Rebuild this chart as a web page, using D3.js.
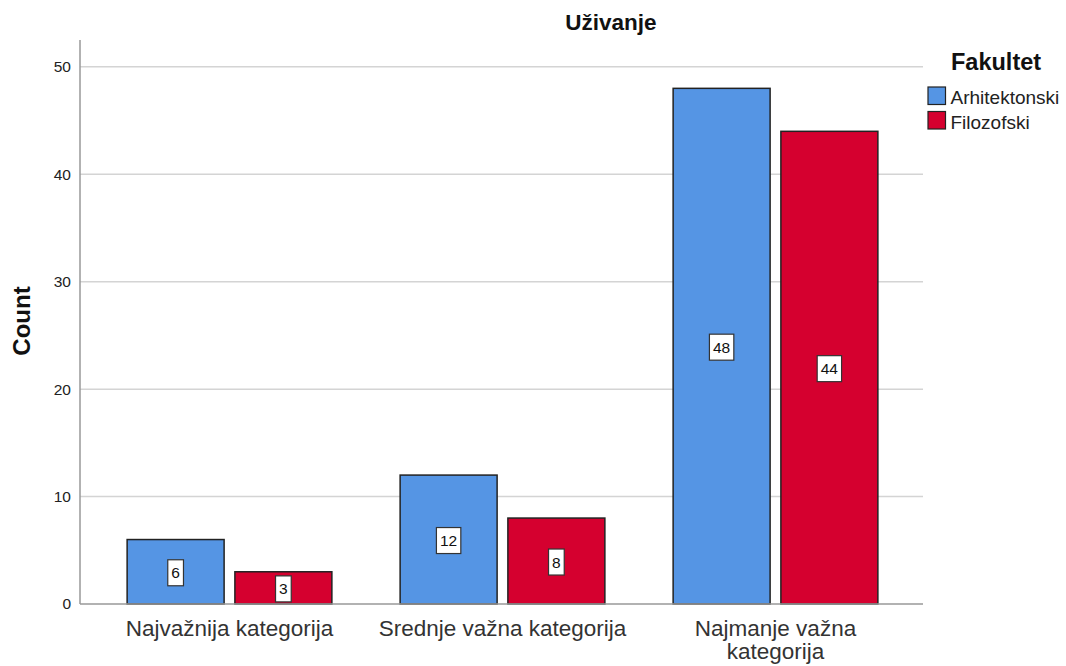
<!DOCTYPE html>
<html><head><meta charset="utf-8">
<script src="https://cdn.jsdelivr.net/npm/d3@7"></script>
<style>body{margin:0;background:#fff;} svg{display:block;font-family:"Liberation Sans",Arial,sans-serif;}</style>
</head><body>
<svg id="c" width="1066" height="666"></svg>
<script>
const categories = ["Najvažnija kategorija", "Srednje važna kategorija", "Najmanje važna kategorija"];
const categoryLines = [["Najvažnija kategorija"], ["Srednje važna kategorija"], ["Najmanje važna", "kategorija"]];
const seriesNames = ["Arhitektonski", "Filozofski"];
const arhitektonski = [6, 12, 48];
const filozofski = [3, 8, 44];
const yTicks = [0, 10, 20, 30, 40, 50];
const colors = ["#5595e4", "#d5002f"];

const svg = d3.select("#c");
const plotLeft = 80, plotRight = 923, plotTop = 40, plotBottom = 604;
const y = d3.scaleLinear().domain([0, 52.5]).range([plotBottom, plotTop]);
const x0 = d3.scaleBand().domain(categories).range([93, 912]).paddingInner(0.25).paddingOuter(0.125);
const x1 = d3.scaleBand().domain(seriesNames).range([0, x0.bandwidth()]).paddingInner(0.1);

// gridlines
svg.append("g").selectAll("line").data(yTicks.filter(d => d > 0)).join("line")
  .attr("x1", plotLeft).attr("x2", plotRight)
  .attr("y1", d => y(d)).attr("y2", d => y(d))
  .attr("stroke", "#d4d4d4").attr("stroke-width", 1.5);

// y axis
const yAxis = svg.append("g").attr("transform", `translate(${plotLeft},0)`)
  .call(d3.axisLeft(y).tickValues(yTicks).tickSize(0).tickPadding(9));
yAxis.select(".domain").remove();
yAxis.selectAll("text").attr("font-size", 15.5).attr("fill", "#222").attr("font-family", "Liberation Sans, Arial, sans-serif");
svg.append("line").attr("x1", plotLeft).attr("x2", plotLeft).attr("y1", plotTop).attr("y2", plotBottom)
  .attr("stroke", "#999").attr("stroke-width", 1.5);

// data
const rows = categories.map((c, i) => ({cat: c, vals: [arhitektonski[i], filozofski[i]]}));
const groups = svg.append("g").selectAll("g").data(rows).join("g")
  .attr("transform", d => `translate(${x0(d.cat)},0)`);
const bars = groups.selectAll("g.bar").data(d => d.vals.map((v, j) => ({s: seriesNames[j], v, j}))).join("g").attr("class", "bar");
bars.append("rect")
  .attr("x", d => x1(d.s)).attr("width", x1.bandwidth())
  .attr("y", d => y(d.v)).attr("height", d => y(0) - y(d.v))
  .attr("fill", d => colors[d.j]).attr("stroke", "#222").attr("stroke-width", 1.5);

// x axis line
svg.append("line").attr("x1", plotLeft).attr("x2", plotRight).attr("y1", plotBottom).attr("y2", plotBottom)
  .attr("stroke", "#999").attr("stroke-width", 1.5);

// value labels
bars.each(function(d) {
  const g = d3.select(this);
  const cx = x1(d.s) + x1.bandwidth() / 2;
  const cy = Math.min((y(d.v) + y(0)) / 2 + 1, y(0) - 14);
  const w = String(d.v).length * 8.7 + 7;
  g.append("rect").attr("x", cx - w / 2).attr("y", cy - 13).attr("width", w).attr("height", 26)
    .attr("fill", "#fff").attr("stroke", "#333").attr("stroke-width", 1.2);
  g.append("text").attr("x", cx).attr("y", cy + 5.5).attr("text-anchor", "middle")
    .attr("font-size", 15.5).attr("fill", "#111").text(d.v);
});

// x labels
const xl = svg.append("g").selectAll("text").data(categories).join("text")
  .attr("x", d => x0(d) + x0.bandwidth() / 2).attr("y", 636)
  .attr("text-anchor", "middle").attr("font-size", 22.5).attr("fill", "#333");
xl.each(function(d, i) {
  const lines = categoryLines[i];
  d3.select(this).selectAll("tspan").data(lines).join("tspan")
    .attr("x", x0(d) + x0.bandwidth() / 2).attr("dy", (l, k) => k === 0 ? 0 : 23).text(l => l);
});

// title
svg.append("text").attr("x", 611).attr("y", 30).attr("text-anchor", "middle")
  .attr("font-size", 22.5).attr("font-weight", "bold").attr("fill", "#111").text("Uživanje");

// y title
svg.append("text").attr("transform", "translate(30,321) rotate(-90)").attr("text-anchor", "middle")
  .attr("font-size", 24).attr("font-weight", "bold").attr("fill", "#111").text("Count");

// legend
const lg = svg.append("g");
lg.append("text").attr("x", 951).attr("y", 69.5).attr("font-size", 23.5).attr("font-weight", "bold").attr("fill", "#111").text("Fakultet");
const li = lg.selectAll("g.li").data(seriesNames).join("g").attr("class", "li")
  .attr("transform", (d, i) => `translate(928,${87 + i * 24.5})`);
li.append("rect").attr("width", 17.5).attr("height", 17.5).attr("fill", (d, i) => colors[i]).attr("stroke", "#222").attr("stroke-width", 1.2);
li.append("text").attr("x", 22.5).attr("y", 17).attr("font-size", 19).attr("fill", "#222").text(d => d);
</script>
</body></html>
